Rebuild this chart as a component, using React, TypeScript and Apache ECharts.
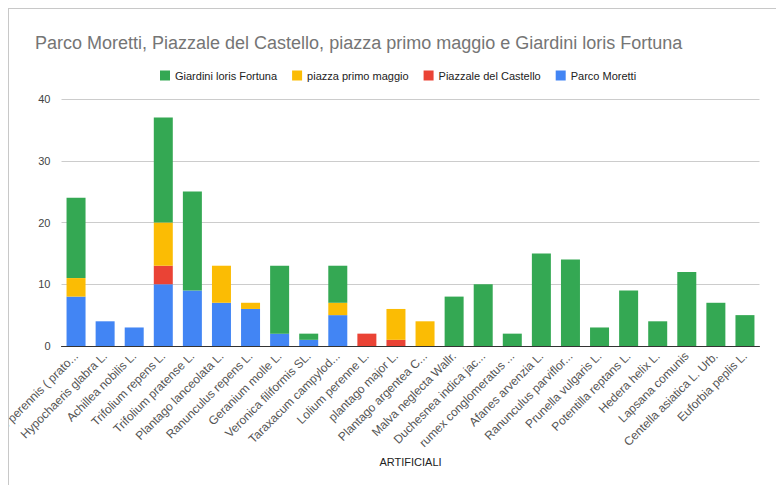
import React, { useEffect, useRef } from "react";
import * as echarts from "echarts";

const categories = [
  "Bellis perennis ( prato...",
  "Hypochaeris glabra L.",
  "Achillea nobilis L.",
  "Trifolium repens L.",
  "Trifolium pratense L.",
  "Plantago lanceolata L.",
  "Ranunculus repens L.",
  "Geranium molle L.",
  "Veronica filiformis SL.",
  "Taraxacum campylod...",
  "Lolium perenne L.",
  "plantago major L.",
  "Plantago argentea C...",
  "Malva neglecta Wallr.",
  "Duchesnea indica jac...",
  "rumex conglomeratus ...",
  "Afanes arvenzia L.",
  "Ranunculus parviflor...",
  "Prunella vulgaris L.",
  "Potentilla reptans L.",
  "Hedera helix L.",
  "Lapsana comunis",
  "Centella asiatica L. Urb.",
  "Euforbia peplis L.",
];

const parcoMoretti = [8, 4, 3, 10, 9, 7, 6, 2, 1, 5, 0, 0, 0, 0, 0, 0, 0, 0, 0, 0, 0, 0, 0, 0];
const piazzaleCastello = [0, 0, 0, 3, 0, 0, 0, 0, 0, 0, 2, 1, 0, 0, 0, 0, 0, 0, 0, 0, 0, 0, 0, 0];
const piazzaPrimoMaggio = [3, 0, 0, 7, 0, 6, 1, 0, 0, 2, 0, 5, 4, 0, 0, 0, 0, 0, 0, 0, 0, 0, 0, 0];
const giardiniLoris = [13, 0, 0, 17, 16, 0, 0, 11, 1, 6, 0, 0, 0, 8, 10, 2, 15, 14, 3, 9, 4, 12, 7, 5];

const yTicks = [0, 10, 20, 30, 40];

const FONT = "Arial, 'Liberation Sans', sans-serif";

export default function App() {
  const ref = useRef<HTMLDivElement>(null);

  useEffect(() => {
    if (!ref.current) return;
    const chart = echarts.init(ref.current, null, { renderer: "svg" });
    const mk = (name: string, data: number[], color: string) => ({
      name,
      type: "bar",
      stack: "total",
      data,
      barWidth: 19,
      itemStyle: { color },
      emphasis: { disabled: true },
    });
    chart.setOption({
      animation: false,
      backgroundColor: "#ffffff",
      title: {
        text: "Parco Moretti, Piazzale del Castello, piazza primo maggio e Giardini loris Fortuna",
        left: 21,
        top: 20,
        textStyle: { fontFamily: FONT, fontSize: 18, fontWeight: "normal", color: "#757575" },
      },
      legend: {
        left: 146,
        top: 56,
        itemWidth: 10,
        itemHeight: 10,
        itemGap: 15,
        icon: "rect",
        data: ["Giardini loris Fortuna", "piazza primo maggio", "Piazzale del Castello", "Parco Moretti"],
        textStyle: { fontFamily: FONT, fontSize: 11, color: "#222" },
      },
      grid: { left: 52.5, right: 16.5, top: 90, bottom: 139, containLabel: false, outerBoundsMode: "none" },
      xAxis: {
        type: "category",
        data: categories,
        name: "ARTIFICIALI",
        nameLocation: "middle",
        nameGap: 104,
        nameTextStyle: { fontFamily: FONT, fontSize: 11, color: "#222" },
        axisLine: { lineStyle: { color: "#333", width: 1 } },
        axisTick: { show: false },
        axisLabel: {
          rotate: 45,
          interval: 0,
          margin: 8,
          fontFamily: FONT,
          fontSize: 12,
          color: "#555",
        },
      },
      yAxis: {
        type: "value",
        min: yTicks[0],
        max: yTicks[yTicks.length - 1],
        interval: 10,
        axisLine: { show: false },
        axisTick: { show: false },
        axisLabel: { fontFamily: FONT, fontSize: 11, color: "#444", margin: 11 },
        splitLine: { lineStyle: { color: "#cccccc" } },
      },
      series: [
        mk("Parco Moretti", parcoMoretti, "#4285F4"),
        mk("Piazzale del Castello", piazzaleCastello, "#EA4335"),
        mk("piazza primo maggio", piazzaPrimoMaggio, "#FBBC04"),
        mk("Giardini loris Fortuna", giardiniLoris, "#34A853"),
      ],
    });
    return () => chart.dispose();
  }, []);

  return (
    <div style={{ position: "absolute", left: 0, top: 0, width: 776, height: 485, background: "#fff", overflow: "hidden" }}>
      <div
        style={{
          position: "absolute",
          left: 8,
          top: 8,
          width: 767,
          height: 476,
          borderLeft: "1px solid #c8c8c8",
          borderTop: "1px solid #c8c8c8",
          overflow: "hidden",
        }}
      >
        <div ref={ref} style={{ width: 767, height: 476 }} />
      </div>
    </div>
  );
}
